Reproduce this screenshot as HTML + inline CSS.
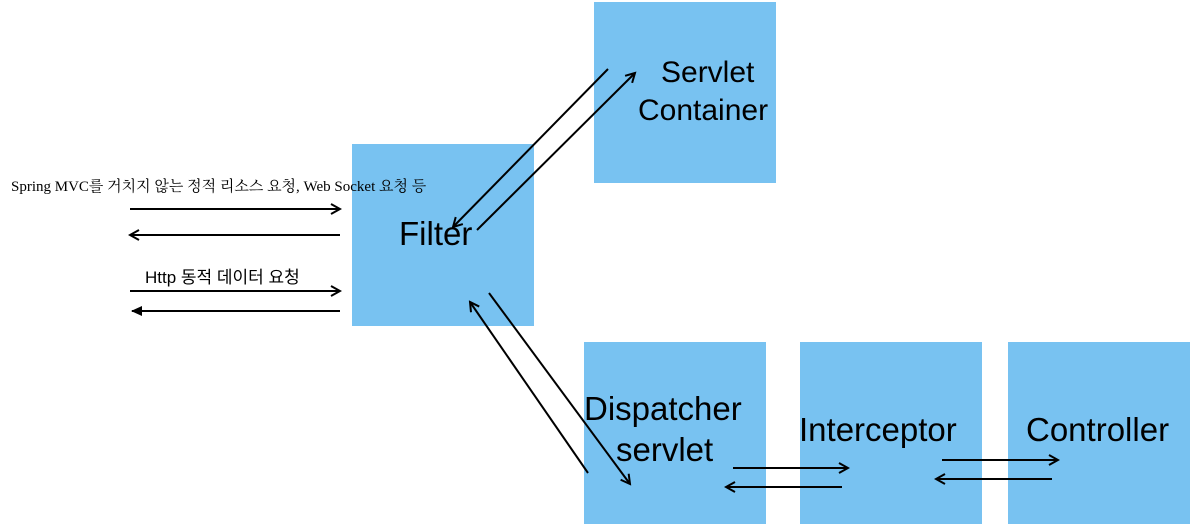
<!DOCTYPE html>
<html><head><meta charset="utf-8"><style>
body{margin:0;width:1194px;height:526px;background:#fff;position:relative;overflow:hidden;font-family:"Liberation Sans","Noto Sans CJK KR",sans-serif}
.b{position:absolute;background:#78c2f1}
.t{position:absolute;color:#000;white-space:nowrap}
svg{position:absolute;left:0;top:0}
</style></head><body>
<div class="b" style="left:594px;top:2px;width:182px;height:181px"></div>
<div class="b" style="left:352px;top:144px;width:182px;height:182px"></div>
<div class="b" style="left:584px;top:342px;width:182px;height:182px"></div>
<div class="b" style="left:800px;top:342px;width:182px;height:182px"></div>
<div class="b" style="left:1008px;top:342px;width:182px;height:182px"></div>
<div class="t" style="left:661px;top:56px;font-size:30px">Servlet</div>
<div class="t" style="left:638px;top:94px;font-size:30px">Container</div>
<div class="t" style="left:399px;top:215px;font-size:33px">Filter</div>
<div class="t" style="left:584px;top:390px;font-size:33px">Dispatcher</div>
<div class="t" style="left:616px;top:431px;font-size:33px">servlet</div>
<div class="t" style="left:799px;top:411px;font-size:33px">Interceptor</div>
<div class="t" style="left:1026px;top:411px;font-size:33px">Controller</div>
<div class="t" style="left:11px;top:175px;font-size:15px;font-family:'Liberation Serif','Noto Serif CJK SC','Noto Sans CJK KR',serif">Spring MVC를 거치지 않는 정적 리소스 요청, Web Socket 요청 등</div>
<div class="t" style="left:145px;top:263px;font-size:17px">Http 동적 데이터 요청</div>
<svg width="1194" height="526" fill="none" stroke="#000" stroke-width="2">
<defs>
<marker id="o" markerWidth="12" markerHeight="12" refX="10" refY="6" orient="auto" markerUnits="userSpaceOnUse"><path d="M1,1 L10,6 L1,11" stroke="#000" stroke-width="2" fill="none"/></marker>
<marker id="f" markerWidth="12" markerHeight="12" refX="10" refY="6" orient="auto" markerUnits="userSpaceOnUse"><path d="M0,1 L11,6 L0,11Z" fill="#000" stroke="none"/></marker>
</defs>
<line x1="130" y1="209" x2="340" y2="209" marker-end="url(#o)"/>
<line x1="340" y1="235" x2="130" y2="235" marker-end="url(#o)"/>
<line x1="130" y1="291" x2="340" y2="291" marker-end="url(#o)"/>
<line x1="340" y1="311" x2="132" y2="311" marker-end="url(#f)"/>
<line x1="608" y1="69" x2="453" y2="227" marker-end="url(#o)"/>
<line x1="477" y1="230" x2="635" y2="73" marker-end="url(#o)"/>
<line x1="588" y1="473" x2="470" y2="302" marker-end="url(#o)"/>
<line x1="489" y1="293" x2="630" y2="484" marker-end="url(#o)"/>
<line x1="733" y1="468" x2="848" y2="468" marker-end="url(#o)"/>
<line x1="842" y1="487" x2="726" y2="487" marker-end="url(#o)"/>
<line x1="942" y1="460" x2="1058" y2="460" marker-end="url(#o)"/>
<line x1="1052" y1="479" x2="936" y2="479" marker-end="url(#o)"/>
</svg>
</body></html>
